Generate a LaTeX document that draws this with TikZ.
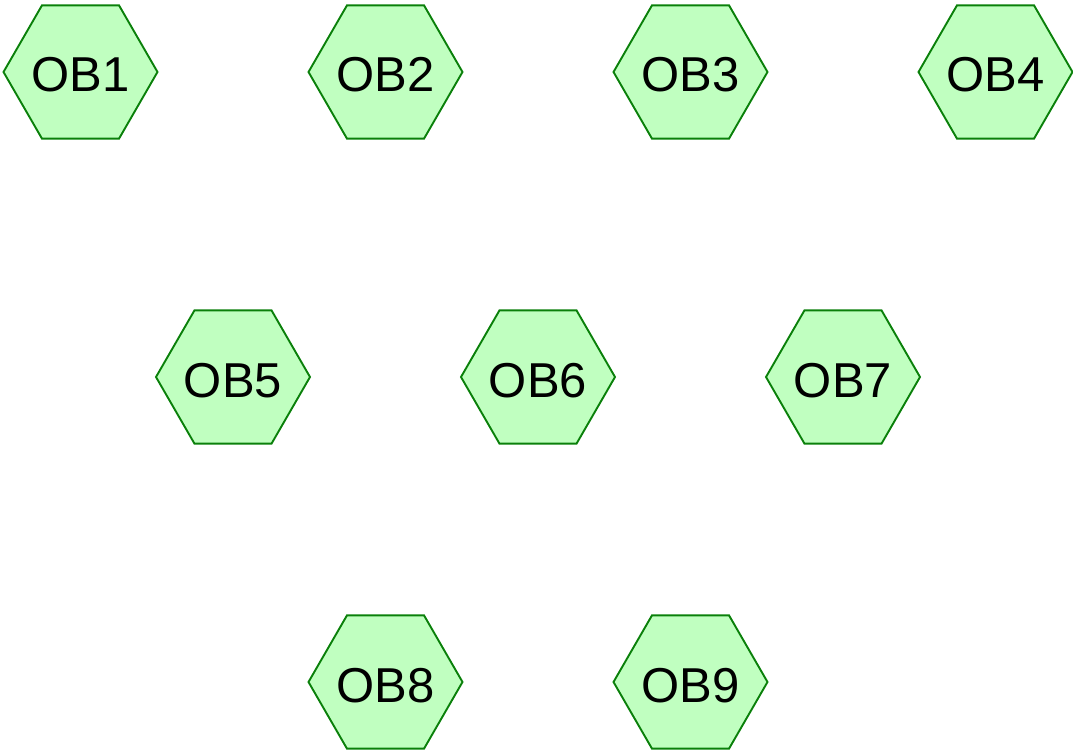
\documentclass[tikz,border=0pt]{standalone}
\usepackage{fontspec}
\setmainfont{Liberation Sans}
\usetikzlibrary{shapes.geometric}
\definecolor{hexfill}{RGB}{192,255,192}
\definecolor{hexline}{RGB}{10,128,10}
\tikzset{
  hexnode/.style={regular polygon, regular polygon sides=6,
    minimum size=154pt, inner xsep=-8pt, inner ysep=0pt, outer sep=0pt,
    draw=hexline, fill=hexfill, line width=1.9pt,
    font=\fontsize{49}{49}\selectfont, text height=40pt, text depth=0pt}
}
\begin{document}
\begin{tikzpicture}[x=1pt,y=-1pt]
  \useasboundingbox (0,0) rectangle (1073,751);
  % top row
  \node[hexnode] (ob1) at (80.5,72) {OB1};
  \node[hexnode] (ob2) at (385.5,72) {OB2};
  \node[hexnode] (ob3) at (690.5,72) {OB3};
  \node[hexnode] (ob4) at (995.5,72) {OB4};
  % middle row
  \node[hexnode] (ob5) at (233,377) {OB5};
  \node[hexnode] (ob6) at (538,377) {OB6};
  \node[hexnode] (ob7) at (843,377) {OB7};
  % bottom row
  \node[hexnode] (ob8) at (385.5,682) {OB8};
  \node[hexnode] (ob9) at (690.5,682) {OB9};
\end{tikzpicture}
\end{document}
